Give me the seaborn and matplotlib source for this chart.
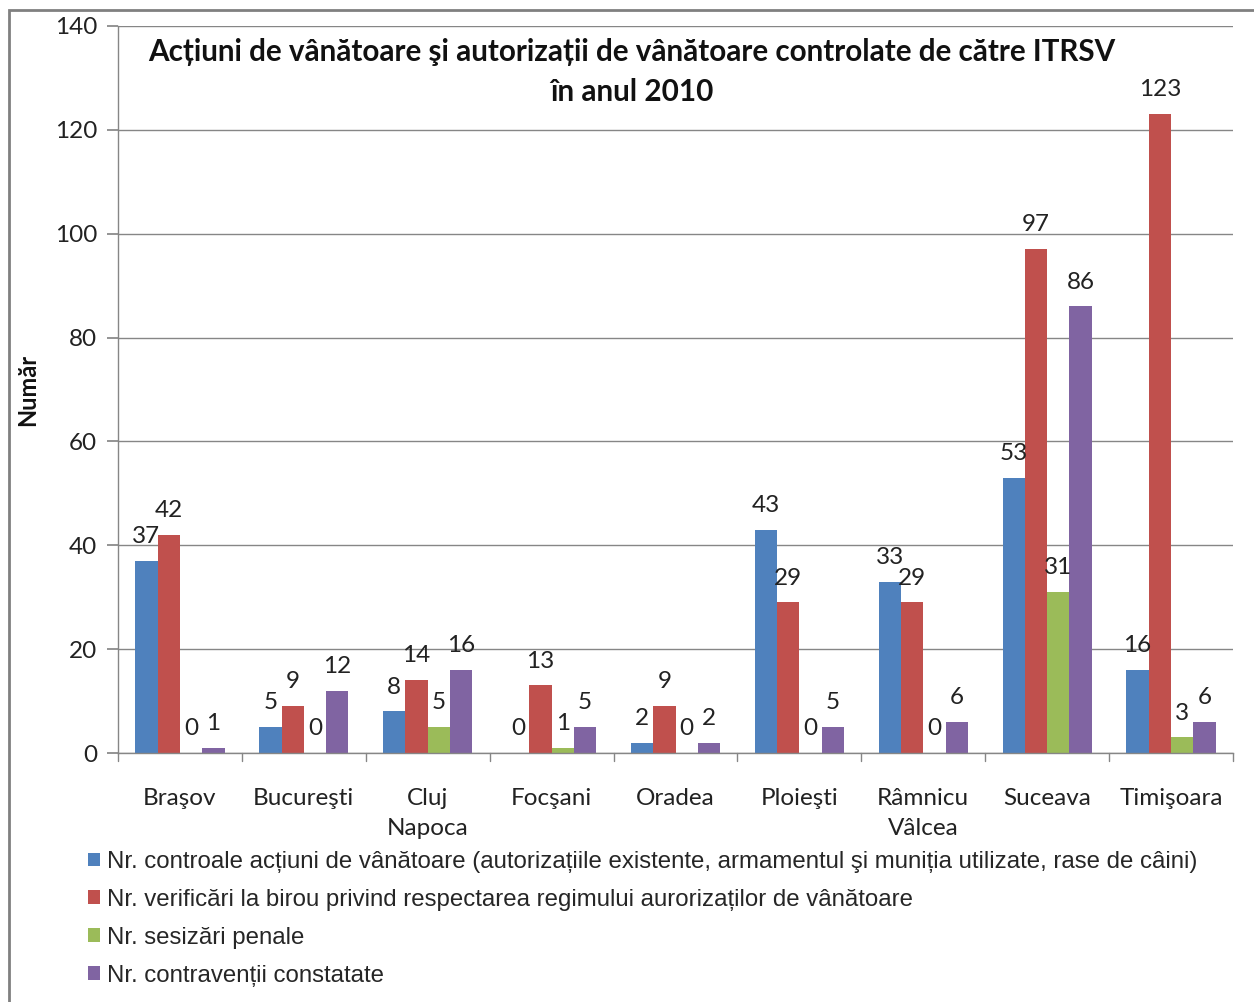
import numpy as np
import pandas as pd
import matplotlib
matplotlib.use("Agg")
import matplotlib.pyplot as plt
import seaborn as sns
from matplotlib.patches import Patch, Rectangle

cities = ["Braşov", "Bucureşti", "Cluj\nNapoca", "Focşani", "Oradea",
          "Ploieşti", "Râmnicu\nVâlcea", "Suceava", "Timişoara"]
series_names = [
    "Nr. controale acțiuni de vânătoare (autorizațiile existente, armamentul şi muniția utilizate, rase de câini)",
    "Nr. verificări la birou privind respectarea regimului aurorizaților de vânătoare",
    "Nr. sesizări penale",
    "Nr. contravenții constatate",
]
controale = [37, 5, 8, 0, 2, 43, 33, 53, 16]
verificari = [42, 9, 14, 13, 9, 29, 29, 97, 123]
sesizari = [0, 0, 5, 1, 0, 0, 0, 31, 3]
contraventii = [1, 12, 16, 5, 2, 5, 6, 86, 6]
y_ticks = [0, 20, 40, 60, 80, 100, 120, 140]

colors = ["#4F81BD", "#C0504D", "#9BBB59", "#8064A2"]

rows = []
for name, vals in zip(series_names, [controale, verificari, sesizari, contraventii]):
    for c, v in zip(cities, vals):
        rows.append({"Oraș": c, "Serie": name, "Valoare": v})
df = pd.DataFrame(rows)

sns.set_theme(style="white")
plt.rcParams["font.family"] = ["Lato", "DejaVu Sans"]

W, H = 1254, 1002
fig = plt.figure(figsize=(W / 100, H / 100), dpi=100)
ax = fig.add_axes([118 / W, 1 - 753 / H, (1233 - 118) / W, (753 - 26) / H])

sns.barplot(data=df, x="Oraș", y="Valoare", hue="Serie", hue_order=series_names,
            palette=colors, width=0.72, saturation=1, ax=ax, legend=False,
            edgecolor="none", errorbar=None)

ax.set_ylim(0, 140)
ax.set_xlim(-0.5, len(cities) - 0.5)
ax.set_yticks(y_ticks)
ax.yaxis.grid(True, color="#868686", linewidth=1)
ax.set_axisbelow(True)
for s in ["top", "right"]:
    ax.spines[s].set_visible(False)
for s in ["left", "bottom"]:
    ax.spines[s].set_color("#868686")
    ax.spines[s].set_linewidth(1)

ax.set_xticks(np.arange(len(cities)))
ax.set_xticklabels(cities, fontsize=17.5, color="#222222", linespacing=1.55)
ax.tick_params(axis="x", length=0, pad=25)
ax.tick_params(axis="y", length=8, color="#868686", labelsize=17.5,
               labelcolor="#222222", pad=7, left=True)
# boundary ticks between categories
for b in np.arange(-0.5, len(cities), 1.0):
    ax.plot([b, b], [0, -0.011], transform=ax.get_xaxis_transform(),
            color="#868686", lw=1, clip_on=False)

ax.set_xlabel("")
ax.set_ylabel("")
fig.text(28 / W, 1 - 390 / H, "Număr", rotation=90, ha="center", va="center",
         fontsize=17, fontweight="bold", color="#111111")

for cont in ax.containers:
    for bar in cont:
        h = bar.get_height()
        ax.annotate(f"{int(h)}", (bar.get_x() + bar.get_width() / 2, h),
                    xytext=(0, 10), textcoords="offset points",
                    ha="center", va="bottom", fontsize=17.5, color="#222222")

fig.text(632 / W, 1 - 72 / H,
         "Acțiuni de vânătoare şi autorizații de vânătoare controlate de către ITRSV\nîn anul 2010",
         ha="center", va="center", fontsize=21.3, fontweight="bold",
         linespacing=1.5, color="#111111")

handles = [Patch(facecolor=c, edgecolor="none") for c in colors]
leg = fig.legend(handles, series_names, loc="upper left",
                 bbox_to_anchor=(88 / W, 1 - 851 / H),
                 frameon=False, borderpad=0, borderaxespad=0,
                 handlelength=0.5, handleheight=0.5,
                 handletextpad=0.3, labelspacing=0.66,
                 prop={"family": ["Liberation Sans Narrow", "Liberation Sans"], "size": 17.3})

# outer frame
fig.add_artist(Rectangle((9 / W, -0.01), 1.2, 1 - 10 / H + 0.01,
                         transform=fig.transFigure, fill=False,
                         edgecolor="#808080", linewidth=2))

fig.savefig("out.png", dpi=100, facecolor="white")
